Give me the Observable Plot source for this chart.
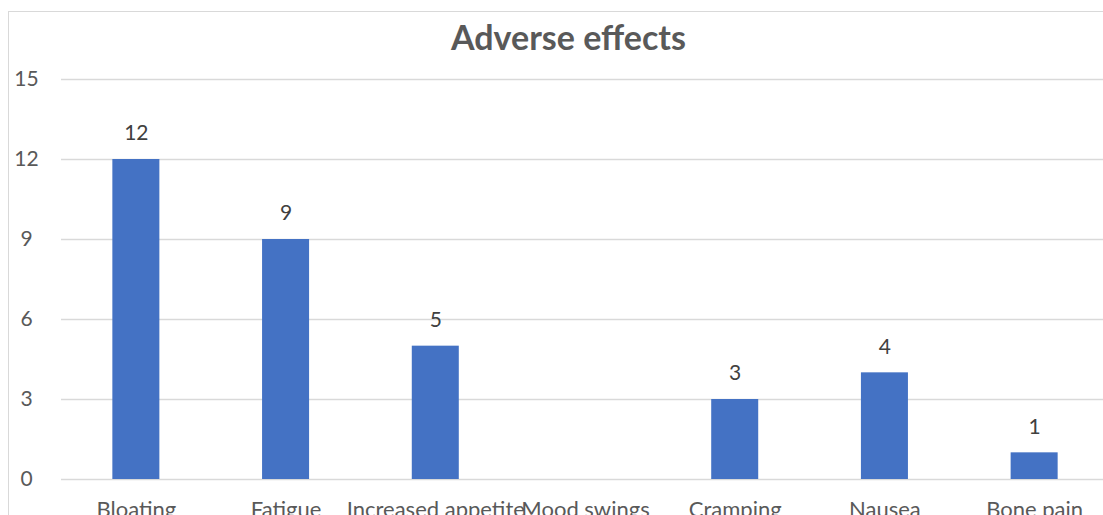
<!DOCTYPE html>
<html>
<head>
<meta charset="utf-8">
<script src="https://cdn.jsdelivr.net/npm/d3@7"></script>
<script src="https://cdn.jsdelivr.net/npm/@observablehq/plot@0.6"></script>
<style>
  html, body { margin: 0; padding: 0; background: #fff; width: 1103px; height: 515px; overflow: hidden; }
  #wrap { position: relative; width: 1103px; height: 515px; overflow: hidden; }
  #frame { position: absolute; left: 8px; top: 11px; width: 1121px; height: 600px; border: 1px solid #d9d9d9; box-sizing: border-box; }
  #title { position: absolute; left: 8px; width: 1121px; top: 17px; text-align: center; font-family: Lato, "Open Sans", sans-serif; font-weight: 700; font-size: 34px; line-height: 40px; color: #595959; }
  #chart { position: absolute; left: 0; top: 0; width: 1130px; }
  #chart svg { max-width: none !important; }
</style>
</head>
<body>
<div id="wrap">
  <div id="frame"></div>
  <div id="chart"></div>
  <div id="title">Adverse effects</div>
</div>
<script>
const categories = ["Bloating", "Fatigue", "Increased appetite", "Mood swings", "Cramping", "Nausea", "Bone pain"];
const counts = [12, 9, 5, 0, 3, 4, 1];
const yTicks = [0, 3, 6, 9, 12, 15];

const data = categories.map((c, i) => ({category: c, count: counts[i]}));
const labeled = data.filter(d => d.count > 0);

const chart = Plot.plot({
  width: 1130,
  height: 540,
  marginLeft: 61,
  marginRight: 21,
  marginTop: 79,
  marginBottom: 61,
  style: {fontFamily: "Lato, 'Open Sans', sans-serif", fontSize: "21px", color: "#595959", background: "transparent", overflow: "visible", maxWidth: "none"},
  x: {domain: categories, paddingInner: 0.686, paddingOuter: 0.343, round: false, label: null},
  y: {domain: [0, 15], ticks: yTicks, label: null},
  marks: [
    Plot.gridY(yTicks, {stroke: "#d9d9d9", strokeOpacity: 1, strokeWidth: 1.5}),
    Plot.barY(data, {x: "category", y: "count", fill: "#4472c4"}),
    Plot.text(labeled, {x: "category", y: "count", text: d => String(d.count), dy: -26, fill: "#404040", fontSize: 21}),
    Plot.axisY(yTicks, {tickSize: 0, tickPadding: 35, textAnchor: "middle", fill: "#595959", fontSize: 21, label: null}),
    Plot.axisX({tickSize: 0, tickPadding: 22, fill: "#595959", fontSize: 22, label: null})
  ]
});
document.getElementById("chart").appendChild(chart);
</script>
</body>
</html>
